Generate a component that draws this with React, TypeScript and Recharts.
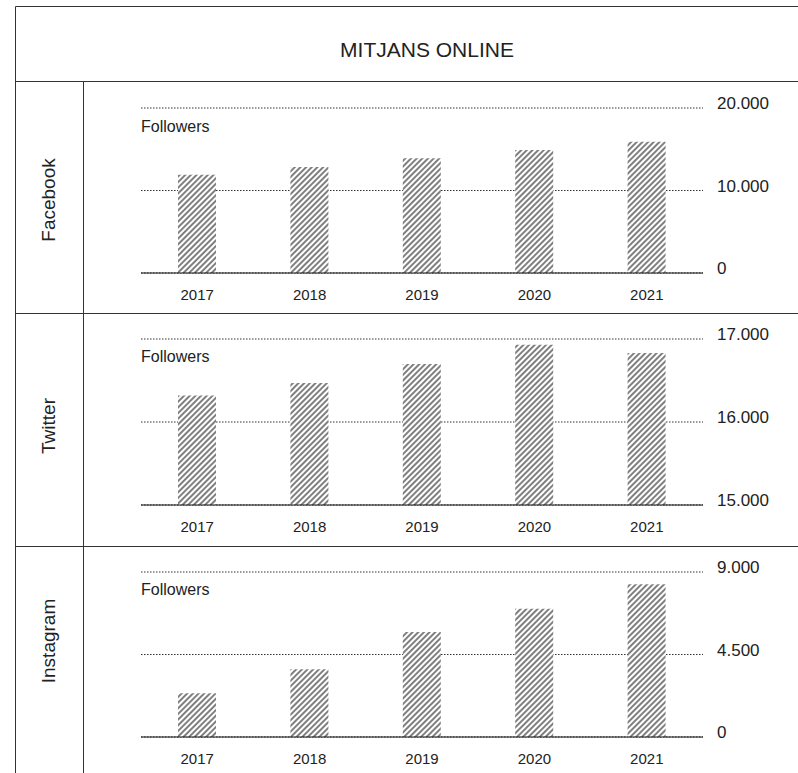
import React from 'react';
import { BarChart, Bar, XAxis, YAxis, CartesianGrid } from 'recharts';

const years = ['2017', '2018', '2019', '2020', '2021'];

const facebookFollowers = [11900, 12850, 13900, 14900, 15900];
const twitterFollowers = [16320, 16470, 16700, 16930, 16830];
const instagramFollowers = [2380, 3700, 5730, 7000, 8330];

const facebookTicks = [0, 10000, 20000];
const twitterTicks = [15000, 16000, 17000];
const instagramTicks = [0, 4500, 9000];

const TITLE = 'MITJANS ONLINE';
const SERIES_LABEL = 'Followers';

const FONT = '"Liberation Sans", Arial, Helvetica, sans-serif';
const INK = '#222';

// 20000 -> "20.000"
const fmt = (v: number) => String(v).replace(/\B(?=(\d{3})+(?!\d))/g, '.');

interface RightTickProps {
  x?: number;
  y?: number;
  payload?: { value: number };
}

function RightTick({ x = 0, y = 0, payload }: RightTickProps) {
  return (
    <text x={x} y={y + 1} fill={INK} fontSize={17} fontFamily={FONT} textAnchor="start">
      {fmt(payload ? payload.value : 0)}
    </text>
  );
}

interface RowChartProps {
  id: string;
  values: number[];
  ticks: number[];
  top: number;
  height: number;
  plotHeight: number;
}

function RowChart({ id, values, ticks, top, height, plotHeight }: RowChartProps) {
  const data = years.map((year, i) => ({ year, followers: values[i] }));
  const marginTop = 26;
  const xAxisHeight = 30;
  const marginBottom = height - marginTop - plotHeight - xAxisHeight;

  return (
    <div style={{ position: 'absolute', left: 83, top }}>
      <BarChart
        width={715}
        height={height}
        data={data}
        margin={{ top: marginTop, right: 15, bottom: marginBottom, left: 58 }}
      >
        <defs>
          <pattern
            id={`hatch-${id}`}
            width="4"
            height="4"
            patternUnits="userSpaceOnUse"
            patternTransform="rotate(45)"
          >
            <rect width="4" height="4" fill="#fff" />
            <line x1="2" y1="0" x2="2" y2="4" stroke="#000" strokeWidth="1" />
          </pattern>
        </defs>
        <CartesianGrid vertical={false} stroke="#333" strokeDasharray="1.5 1.5" />
        <XAxis
          dataKey="year"
          height={xAxisHeight}
          axisLine={{ stroke: '#111', strokeWidth: 1 }}
          tickLine={false}
          tickSize={0}
          tickMargin={16}
          tick={{ fill: INK, fontSize: 15, fontFamily: FONT }}
        />
        <YAxis
          orientation="right"
          type="number"
          domain={[ticks[0], ticks[ticks.length - 1]]}
          ticks={ticks}
          interval={0}
          width={80}
          axisLine={false}
          tickLine={false}
          tickSize={0}
          tickMargin={14}
          tick={<RightTick />}
        />
        <Bar dataKey="followers" fill={`url(#hatch-${id})`} barSize={38} isAnimationActive={false} />
      </BarChart>
    </div>
  );
}

const rowLabels = [
  { name: 'Facebook', cy: 200, followersY: 132 },
  { name: 'Twitter', cy: 426, followersY: 362 },
  { name: 'Instagram', cy: 641, followersY: 595 },
];

export default function App() {
  return (
    <div
      style={{
        position: 'absolute',
        left: 0,
        top: 0,
        width: 798,
        height: 773,
        overflow: 'hidden',
        background: '#fff',
        fontFamily: FONT,
      }}
    >
      <svg width={798} height={773} style={{ position: 'absolute', left: 0, top: 0 }}>
        <g stroke="#333" strokeWidth={1}>
          <line x1={15.5} y1={6.5} x2={798} y2={6.5} />
          <line x1={15.5} y1={6.5} x2={15.5} y2={773} />
          <line x1={15.5} y1={81.5} x2={798} y2={81.5} />
          <line x1={83.5} y1={81.5} x2={83.5} y2={773} />
          <line x1={15.5} y1={313.5} x2={798} y2={313.5} />
          <line x1={15.5} y1={546.5} x2={798} y2={546.5} />
        </g>
        <text x={427} y={57} textAnchor="middle" fontSize={21} fill={INK} fontFamily={FONT}>
          {TITLE}
        </text>
        {rowLabels.map((r) => (
          <g key={r.name}>
            <text
              transform={`translate(55, ${r.cy}) rotate(-90)`}
              textAnchor="middle"
              fontSize={19}
              fill={INK}
              fontFamily={FONT}
            >
              {r.name}
            </text>
            <text x={141} y={r.followersY} fontSize={16} fill={INK} fontFamily={FONT}>
              {SERIES_LABEL}
            </text>
          </g>
        ))}
      </svg>
      <RowChart id="fb" values={facebookFollowers} ticks={facebookTicks} top={82} height={231} plotHeight={165} />
      <RowChart id="tw" values={twitterFollowers} ticks={twitterTicks} top={313} height={233} plotHeight={166} />
      <RowChart id="ig" values={instagramFollowers} ticks={instagramTicks} top={546} height={227} plotHeight={165} />
    </div>
  );
}
